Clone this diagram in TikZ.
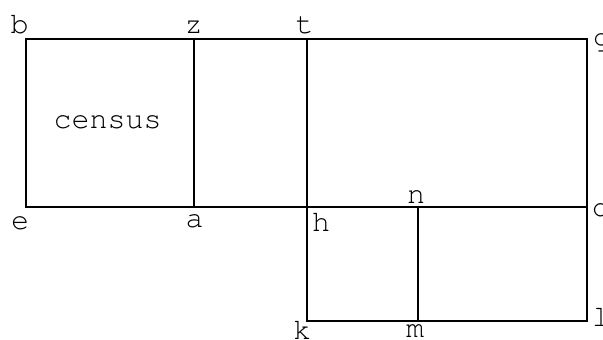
\documentclass[tikz,border=0pt]{standalone}
\usepackage[T1]{fontenc}
\usepackage{courier}
\renewcommand{\familydefault}{\ttdefault}

\begin{document}
\begin{tikzpicture}[
    x=1pt, y=-1pt,
    every node/.style={font=\fontsize{30}{36}\selectfont\ttfamily, inner sep=0pt, anchor=base},
    wall/.style={line width=1.6pt}
]
\useasboundingbox (0,0) rectangle (603,340);
% corners of the plan
\coordinate (b) at (26,39);
\coordinate (z) at (194,39);
\coordinate (t) at (307,39);
\coordinate (g) at (587,39);
\coordinate (e) at (26,207);
\coordinate (a) at (194,207);
\coordinate (h) at (307,207);
\coordinate (n) at (418,207);
\coordinate (d) at (587,207);
\coordinate (k) at (307,321);
\coordinate (m) at (418,321);
\coordinate (l) at (587,321);
% walls
\draw[wall] (b) -- (g) -- (d) -- (e) -- cycle;
\draw[wall] (z) -- (a);
\draw[wall] (t) -- (h);
\draw[wall] (h) -- (k) -- (l) -- (d);
\draw[wall] (n) -- (m);
% labels
\node (census) at (107.5,128) {census};
\node (lb) at (19.5,33) {b};
\node (lz) at (193.5,33) {z};
\node (lt) at (304.5,33) {t};
\node (lg) at (602,46) {g};
\node (le) at (20,229) {e};
\node (la) at (194.5,227) {a};
\node (lh) at (321,231) {h};
\node (ln) at (416,203) {n};
\node (ld) at (601,216) {d};
\node (lk) at (302,339) {k};
\node (lm) at (415,337) {m};
\node (ll) at (601,326) {l};
\end{tikzpicture}
\end{document}
